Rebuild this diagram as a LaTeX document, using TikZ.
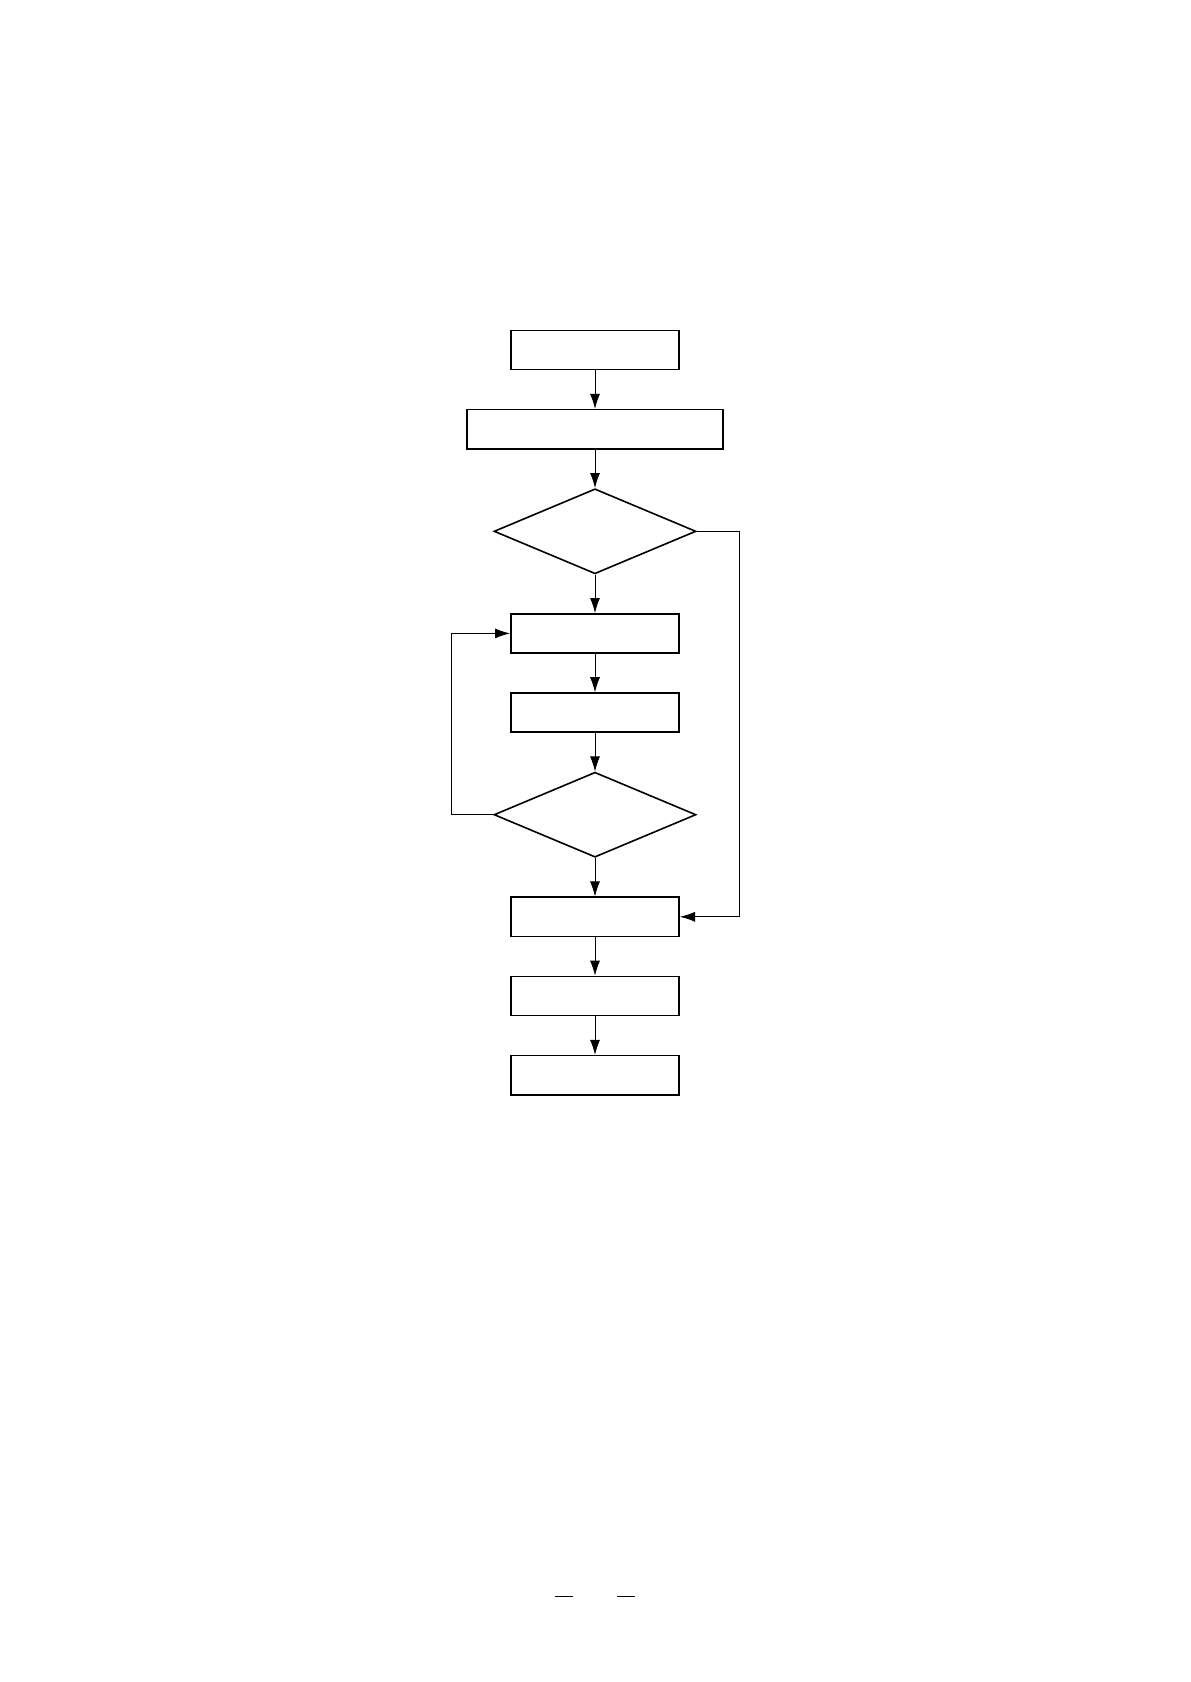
\documentclass[tikz,border=0pt]{standalone}
\usepackage{amsmath}
\usetikzlibrary{positioning,shapes.geometric,arrows.meta}

\tikzset{
    stepbox/.style={draw, line width=0.8pt, minimum width=84.2pt, minimum height=19.6pt, inner sep=0pt},
    decision/.style={draw, diamond, line width=0.8pt, minimum width=101pt, minimum height=42.5pt, inner sep=0pt},
    flow/.style={line width=0.4pt, -{Latex[length=7.5pt,width=5pt]}}
}

\begin{document}
\begin{tikzpicture}[node distance=19.2pt]

    % Page
    \useasboundingbox (0,0) rectangle (595pt,-841pt);

    % Boxes
    \node[stepbox] (start) at (297.5pt,-175pt) {};
    \node[stepbox, minimum width=128.2pt, below=of start] (init) {};
    \node[decision, below=of init] (check) {};
    \node[stepbox, below=of check] (work) {};
    \node[stepbox, below=of work] (update) {};
    \node[decision, below=of update] (loop) {};
    \node[stepbox, below=of loop] (merge) {};
    \node[stepbox, below=of merge] (output) {};
    \node[stepbox, below=of output] (finish) {};

    % Arrows
    \draw[flow] (start) -- (init);
    \draw[flow] (init) -- (check);
    \draw[flow] (check) -- (work);
    \draw[flow] (work) -- (update);
    \draw[flow] (update) -- (loop);
    \draw[flow] (loop) -- (merge);
    \draw[flow] (merge) -- (output);
    \draw[flow] (output) -- (finish);

    % Back and side lines
    \draw[flow] (loop.west) -- ++(-21pt,0) |- (work.west);
    \draw[flow] (check.east) -- ++(21.5pt,0) |- (merge.east);

    % Footer marks
    \draw[line width=0.5pt] (277.5pt,-798pt) -- (286.5pt,-798pt);
    \draw[line width=0.5pt] (308.5pt,-798pt) -- (317.5pt,-798pt);

\end{tikzpicture}
\end{document}
